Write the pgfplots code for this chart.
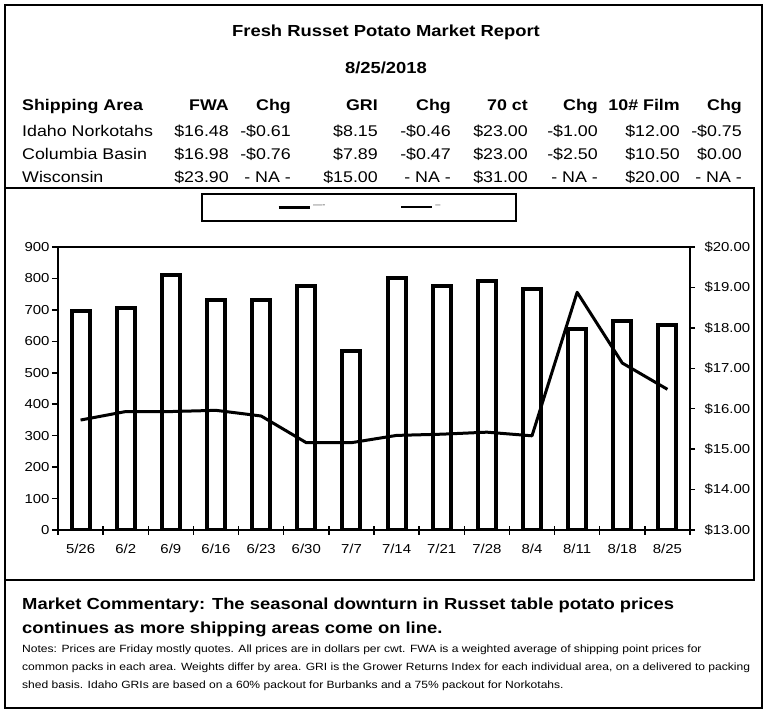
\documentclass[border=0pt]{standalone}
\usepackage{fontspec}
\setmainfont[FakeStretch=1.15]{Liberation Sans}
\usepackage{pgfplots}
\pgfplotsset{compat=1.18}
\newcommand{\fs}[1]{\fontsize{#1}{#1}\selectfont}
\begin{document}
\begin{tikzpicture}[x=1pt,y=1pt]
\useasboundingbox (0,0) rectangle (772,-716);
\draw[line width=2pt] (5,-5) rectangle (762,-708);
\draw[line width=1.2pt] (5,-188) rectangle (754,-580);
\draw[line width=1.5pt] (202,-194) rectangle (516,-221);
% title
\node[anchor=base, inner sep=0] at (386,-36) {\fs{16}\bfseries Fresh Russet Potato Market Report};
\node[anchor=base, inner sep=0] at (386,-73) {\fs{16}\bfseries 8/25/2018};
% table
\node[anchor=base west, inner sep=0] at (22,-110.5) {\fs{15.5}\bfseries Shipping Area};
\foreach \x/\v in {229/FWA,291/Chg,378/GRI,451/Chg,528/70 ct,598/Chg,680/10\# Film,742/Chg}
  \node[anchor=base east, inner sep=0] at (\x,-110.5) {\fs{15.5}\bfseries\v};
\node[anchor=base west, inner sep=0] at (22,-136) {\fs{15.5}Idaho Norkotahs};
\foreach \x/\v in {229/\$16.48,291/-\$0.61,378/\$8.15,451/-\$0.46,528/\$23.00,598/-\$1.00,680/\$12.00,742/-\$0.75}
  \node[anchor=base east, inner sep=0] at (\x,-136) {\fs{15.5}\v};
\node[anchor=base west, inner sep=0] at (22,-159.5) {\fs{15.5}Columbia Basin};
\foreach \x/\v in {229/\$16.98,291/-\$0.76,378/\$7.89,451/-\$0.47,528/\$23.00,598/-\$2.50,680/\$10.50,742/\$0.00}
  \node[anchor=base east, inner sep=0] at (\x,-159.5) {\fs{15.5}\v};
\node[anchor=base west, inner sep=0] at (22,-182.5) {\fs{15.5}Wisconsin};
\foreach \x/\v in {229/\$23.90,291/- NA -,378/\$15.00,451/- NA -,528/\$31.00,598/- NA -,680/\$20.00,742/- NA -}
  \node[anchor=base east, inner sep=0] at (\x,-182.5) {\fs{15.5}\v};
% commentary
\node[anchor=base west, inner sep=0] at (22,-609) {\fs{16}\bfseries Market Commentary: The seasonal downturn in Russet table potato prices};
\node[anchor=base west, inner sep=0] at (22,-633) {\fs{16}\bfseries continues as more shipping areas come on line.};
\node[anchor=base west, inner sep=0] at (22,-652) {\fs{10.5}Notes: Prices are Friday mostly quotes. All prices are in dollars per cwt. FWA is a weighted average of shipping point prices for};
\node[anchor=base west, inner sep=0] at (22,-670) {\fs{10.5}common packs in each area. Weights differ by area. GRI is the Grower Returns Index for each individual area, on a delivered to packing};
\node[anchor=base west, inner sep=0] at (22,-688) {\fs{10.5}shed basis. Idaho GRIs are based on a 60\% packout for Burbanks and a 75\% packout for Norkotahs.};

% bars + x ticks
\begin{axis}[
  at={(58pt,-530pt)}, anchor=south west, scale only axis,
  width=632pt, height=283pt,
  xmin=-0.5, xmax=13.5, ymin=0, ymax=900,
  xtick={-0.5,0.5,...,13.5}, x tick label as interval,
  xticklabels={5/26,6/2,6/9,6/16,6/23,6/30,7/7,7/14,7/21,7/28,8/4,8/11,8/18,8/25},
  ytick=\empty,
  xtick pos=bottom,
  axis line style={line width=2pt},
  every tick/.style={black, line width=1.5pt},
  major tick length=9pt, tick align=center,
  tick label style={font=\fs{13}},
  xticklabel style={yshift=-6pt},
]
\addplot[ybar, bar width=18pt, bar shift=0pt, draw=black, fill=white, line width=4pt]
coordinates {(0,695) (1,706) (2,812) (3,731) (4,731) (5,775) (6,568) (7,801) (8,777) (9,791) (10,766) (11,640) (12,666) (13,653)};
\end{axis}

% left y axis
\begin{axis}[
  at={(58pt,-530pt)}, anchor=south west, scale only axis,
  width=632pt, height=283pt,
  xmin=-0.5, xmax=13.5, ymin=0, ymax=900,
  axis x line=none, axis y line*=left,
  ytick={0,100,...,900},
  axis line style={line width=2pt},
  every tick/.style={black, line width=1.5pt},
  major tick length=6pt, tick align=outside,
  tick label style={font=\fs{13}},
  yticklabel style={xshift=1pt},
  /pgf/number format/assume math mode=true,
]
\end{axis}

% line + right axis
\begin{axis}[
  at={(58pt,-530pt)}, anchor=south west, scale only axis,
  width=632pt, height=283pt,
  xmin=-0.5, xmax=13.5, ymin=13, ymax=20,
  axis x line=none, axis y line*=right,
  ytick={13,14,...,20},
  yticklabels={\$13.00,\$14.00,\$15.00,\$16.00,\$17.00,\$18.00,\$19.00,\$20.00},
  axis line style={line width=2pt},
  every tick/.style={black, line width=1.5pt},
  major tick length=5pt, tick align=outside,
  tick label style={font=\fs{13}},
  yticklabel style={xshift=6pt},
  legend style={at={(axis description cs:0.3465,1.1413)}, anchor=west, draw=none, fill=none,
    legend columns=2, inner sep=0pt, font=\fs{8}\color{darkgray},
    /tikz/every even column/.append style={column sep=73pt}},
  legend image code/.code={\draw[#1] (0pt,0pt) -- (31pt,0pt);},
]
\addlegendimage{black, line width=3pt}
\addlegendentry{----}
\addlegendimage{black, line width=2pt}
\addlegendentry{--}
\addplot[black, line width=3pt, line join=round, forget plot]
coordinates {(0,15.72) (1,15.93) (2,15.93) (3,15.96) (4,15.82) (5,15.16) (6,15.16) (7,15.34) (8,15.37) (9,15.42) (10,15.33) (11,18.88) (12,17.13) (13,16.48)};
\end{axis}
\end{tikzpicture}
\end{document}
